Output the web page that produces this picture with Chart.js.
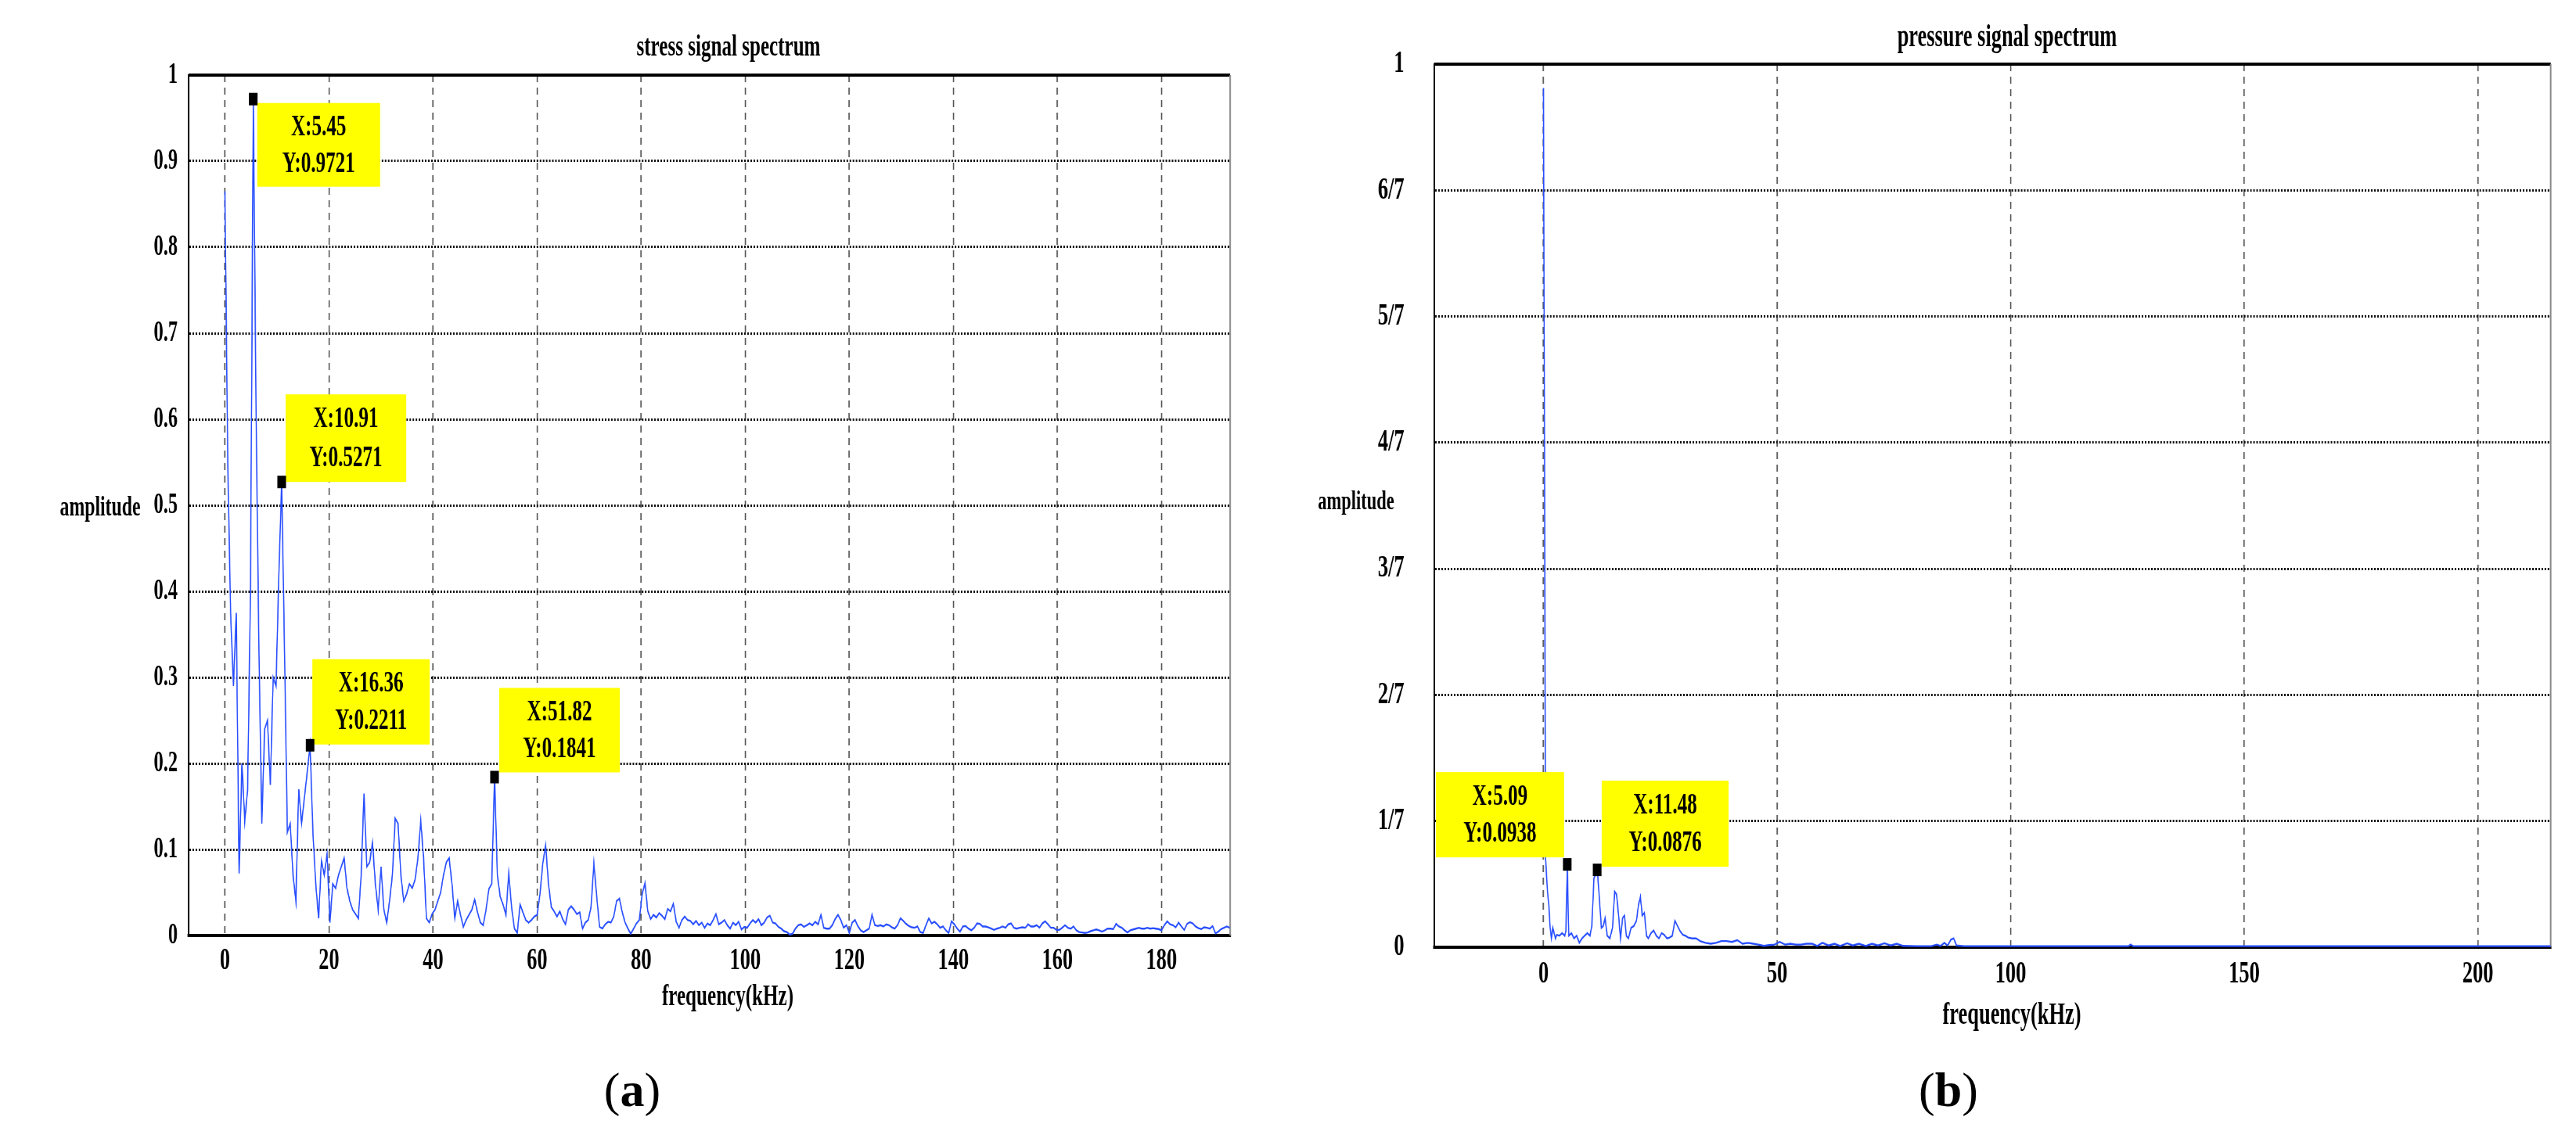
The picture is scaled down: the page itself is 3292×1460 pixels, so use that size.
<!DOCTYPE html>
<html>
<head>
<meta charset="utf-8">
<title>stress / pressure signal spectrum</title>
<script src="https://cdn.jsdelivr.net/npm/chart.js@4.4.1/dist/chart.umd.min.js"></script>
<style>
  body { margin: 0; width: 3292px; height: 1460px; background: #fff; position: relative; overflow: hidden; }
  canvas { position: absolute; top: 0; }
  .lbl {
    position: absolute; white-space: nowrap; color: #000;
    font-family: 'Liberation Serif', 'Times New Roman', serif; font-weight: bold;
    transform: translate(-50%, -50%) scaleX(0.66);
  }
  .cap {
    position: absolute; white-space: nowrap; color: #000;
    font-family: 'Liberation Serif', 'Times New Roman', serif; font-size: 62px;
    transform: translate(-50%, -50%);
  }
</style>
</head>
<body>

<canvas id="stressChart" width="2485" height="1300" style="left:0px"></canvas>
<canvas id="pressureChart" width="2488" height="1300" style="left:1650px"></canvas>

<div class="lbl" style="left:931px; top:58px; font-size:38px">stress signal spectrum</div>
<div class="lbl" style="left:2565px; top:45px; font-size:40px">pressure signal spectrum</div>
<div class="lbl" style="left:128px; top:647px; font-size:36px">amplitude</div>
<div class="lbl" style="left:1733px; top:640px; font-size:34px">amplitude</div>
<div class="lbl" style="left:930px; top:1272px; font-size:38px">frequency(kHz)</div>
<div class="lbl" style="left:2571px; top:1295px; font-size:40px">frequency(kHz)</div>
<div class="cap" style="left:808px; top:1393px">(<b>a</b>)</div>
<div class="cap" style="left:2490px; top:1393px">(<b>b</b>)</div>

<script>
// the original figure is squeezed horizontally, canvases are drawn wide and shrunk
const SX = 0.66;
const FONT = "'Liberation Serif', 'Times New Roman', serif";

/* =========================
   (a) STRESS SIGNAL SPECTRUM
========================= */
const stressStep = 0.5455; // kHz per FFT bin
const stressAmp = [
  0.865, 0.55, 0.375, 0.29, 0.375, 0.072, 0.20, 0.133, 0.17, 0.40,
  0.9721, 0.60, 0.327, 0.13, 0.24, 0.25, 0.175, 0.30, 0.29, 0.42,
  0.5271, 0.33, 0.12, 0.13, 0.07, 0.04, 0.17, 0.13, 0.16, 0.19,
  0.2211, 0.12, 0.06, 0.02, 0.087, 0.07, 0.095, 0.015, 0.06, 0.055,
  0.07, 0.08, 0.09, 0.055, 0.04, 0.03, 0.025, 0.02, 0.07, 0.165,
  0.08, 0.085, 0.108, 0.06, 0.03, 0.08, 0.03, 0.015, 0.04, 0.07,
  0.136, 0.13, 0.07, 0.04, 0.048, 0.06, 0.055, 0.065, 0.09, 0.133,
  0.09, 0.02, 0.015, 0.025, 0.03, 0.04, 0.05, 0.07, 0.085, 0.09,
  0.06, 0.02, 0.04, 0.024, 0.010, 0.018, 0.024, 0.030, 0.042, 0.027,
  0.015, 0.012, 0.030, 0.054, 0.060, 0.1841, 0.07, 0.045, 0.036, 0.024,
  0.072, 0.033, 0.008, 0.003, 0.036, 0.027, 0.018, 0.015, 0.018, 0.022,
  0.024, 0.048, 0.084, 0.105, 0.060, 0.033, 0.028, 0.022, 0.028, 0.019,
  0.013, 0.030, 0.034, 0.030, 0.025, 0.027, 0.008, 0.015, 0.018, 0.033,
  0.084, 0.045, 0.010, 0.008, 0.013, 0.016, 0.015, 0.022, 0.040, 0.043,
  0.027, 0.015, 0.008, 0.002, 0.008, 0.014, 0.018, 0.048, 0.061, 0.028,
  0.019, 0.024, 0.021, 0.026, 0.023, 0.019, 0.031, 0.028, 0.037, 0.016,
  0.009, 0.018, 0.022, 0.018, 0.017, 0.013, 0.017, 0.012, 0.015, 0.009,
  0.014, 0.012, 0.018, 0.025, 0.013, 0.015, 0.018, 0.012, 0.008, 0.015,
  0.012, 0.016, 0.007, 0.010, 0.009, 0.014, 0.018, 0.015, 0.019, 0.012,
  0.015, 0.021, 0.023, 0.015, 0.014, 0.010, 0.008, 0.005, 0.004, 0.001,
  0.002, 0.008, 0.012, 0.013, 0.010, 0.012, 0.014, 0.012, 0.016, 0.013,
  0.024, 0.009, 0.008, 0.008, 0.012, 0.019, 0.024, 0.018, 0.009, 0.012,
  0.003, 0.015, 0.018, 0.011, 0.006, 0.004, 0.006, 0.008, 0.024, 0.012,
  0.011, 0.012, 0.0105, 0.013, 0.012, 0.0095, 0.008, 0.012, 0.020, 0.017,
  0.0135, 0.011, 0.0095, 0.009, 0.0105, 0.004, 0.003, 0.012, 0.020, 0.014,
  0.016, 0.013, 0.009, 0.0105, 0.006, 0.003, 0.0165, 0.013, 0.008, 0.0045,
  0.0105, 0.011, 0.008, 0.006, 0.009, 0.014, 0.0135, 0.0105, 0.0105, 0.0095,
  0.008, 0.0065, 0.008, 0.009, 0.0105, 0.009, 0.013, 0.014, 0.009, 0.008,
  0.009, 0.0095, 0.009, 0.013, 0.0105, 0.0105, 0.012, 0.009, 0.014, 0.0165,
  0.013, 0.009, 0.009, 0.0065, 0.0065, 0.009, 0.012, 0.009, 0.008, 0.0105,
  0.006, 0.004, 0.0035, 0.003, 0.0035, 0.005, 0.006, 0.007, 0.006, 0.0045,
  0.006, 0.008, 0.008, 0.0075, 0.0135, 0.0105, 0.009, 0.006, 0.0035, 0.006,
  0.007, 0.008, 0.009, 0.008, 0.008, 0.009, 0.008, 0.0085, 0.008, 0.0075,
  0.006, 0.012, 0.0165, 0.013, 0.012, 0.0095, 0.015, 0.0105, 0.0065, 0.0135,
  0.0155, 0.014, 0.0105, 0.0085, 0.0075, 0.0095, 0.009, 0.008, 0.011, 0.0025,
  0.0045, 0.0075, 0.009, 0.0105, 0.009
];
const stressXTicks = [0, 20, 40, 60, 80, 100, 120, 140, 160, 180];
const stressYTicks = [0, 0.1, 0.2, 0.3, 0.4, 0.5, 0.6, 0.7, 0.8, 0.9, 1];
const stressYLabels = ["0", "0.1", "0.2", "0.3", "0.4", "0.5", "0.6", "0.7", "0.8", "0.9", "1"];
const stressMarkX = [5.45, 10.91, 16.36, 51.82];
const stressMarkY = [0.9721, 0.5271, 0.2211, 0.1841];

/* =========================
   (b) PRESSURE SIGNAL SPECTRUM
========================= */
const pressureFreq = [
  0, 0.45, 0.85, 1.14, 1.42, 1.70, 1.99, 2.27, 2.56, 2.84,
  3.41, 3.98, 4.55, 4.80, 5.09, 5.40, 5.97, 6.53, 7.10, 7.67,
  8.24, 8.81, 9.38, 9.94, 10.34, 10.80, 11.48, 11.65, 11.93, 12.39,
  12.78, 13.18, 13.64, 14.20, 14.77, 15.23, 15.63, 16.02, 16.48, 16.93,
  17.33, 17.73, 18.18, 18.75, 19.32, 19.89, 20.34, 20.74, 21.14, 21.59,
  22.05, 22.44, 23.01, 23.58, 24.15, 24.72, 25.28, 25.85, 26.42, 26.99,
  27.56, 28.13, 28.69, 29.26, 29.83, 30.40, 30.97, 31.82, 32.67, 33.52,
  34.66, 35.80, 36.93, 38.07, 39.20, 40.34, 41.48, 42.61, 43.75, 44.89,
  46.02, 47.16, 48.30, 49.43, 50.57, 51.70, 52.84, 53.98, 55.11, 56.25,
  57.5, 58.6, 59.7, 61.0, 62.3, 63.5, 65.0, 66.2, 67.5, 69.0,
  70.3, 71.6, 73.0, 74.3, 75.6, 77.0, 80.0, 83.0, 84.2, 85.0,
  85.8, 86.5, 87.2, 87.8, 88.4, 90.0, 110.0, 125.2, 125.7, 126.2,
  150.0, 216.0
];
const pressureAmp = [
  0.973, 0.10, 0.063, 0.048, 0.022, 0.010, 0.022, 0.016, 0.010, 0.014,
  0.013, 0.016, 0.013, 0.019, 0.0938, 0.013, 0.016, 0.010, 0.013, 0.005,
  0.010, 0.013, 0.016, 0.013, 0.024, 0.078, 0.0876, 0.078, 0.057, 0.022,
  0.024, 0.033, 0.013, 0.010, 0.022, 0.063, 0.060, 0.039, 0.010, 0.033,
  0.036, 0.013, 0.010, 0.022, 0.024, 0.030, 0.048, 0.057, 0.036, 0.039,
  0.013, 0.010, 0.016, 0.019, 0.013, 0.010, 0.016, 0.014, 0.010, 0.011,
  0.013, 0.030, 0.024, 0.018, 0.014, 0.013, 0.011, 0.010, 0.010, 0.007,
  0.005, 0.004, 0.005, 0.007, 0.007, 0.006, 0.008, 0.004, 0.005, 0.004,
  0.003, 0.0015, 0.0024, 0.003, 0.006, 0.003, 0.004, 0.003, 0.003, 0.004,
  0.004, 0.0015, 0.005, 0.002, 0.004, 0.0015, 0.0045, 0.002, 0.004, 0.0015,
  0.004, 0.002, 0.0045, 0.002, 0.004, 0.0015, 0.0012, 0.0012, 0.003, 0.0015,
  0.005, 0.002, 0.0085, 0.010, 0.002, 0.0012, 0.0012, 0.0012, 0.003, 0.0012,
  0.0012, 0.0012
];
const pressureXTicks = [0, 50, 100, 150, 200];
const pressureYTicks = [0, 1 / 7, 2 / 7, 3 / 7, 4 / 7, 5 / 7, 6 / 7, 1];
const pressureYLabels = ["0", "1/7", "2/7", "3/7", "4/7", "5/7", "6/7", "1"];
const pressureMarkX = [5.09, 11.48];
const pressureMarkY = [0.0938, 0.0876];

/* =========================
   PLUGINS
========================= */

// top and right edges of the axes box
const framePlugin = {
  id: "frame",
  beforeDatasetsDraw(chart) {
    const { ctx, chartArea: a } = chart;
    ctx.save();
    ctx.strokeStyle = "#000";
    ctx.lineWidth = 4;
    ctx.beginPath();
    ctx.moveTo(a.left, a.top);
    ctx.lineTo(a.right, a.top);
    ctx.stroke();
    ctx.strokeStyle = "#888";
    ctx.lineWidth = 3;
    ctx.beginPath();
    ctx.moveTo(a.right, a.top);
    ctx.lineTo(a.right, a.bottom);
    ctx.stroke();
    ctx.restore();
  }
};

// data cursors: black square on the point + yellow box with X / Y
const marksPlugin = {
  id: "marks",
  afterDatasetsDraw(chart, args, opts) {
    const { ctx, scales } = chart;
    ctx.save();
    opts.xs.forEach((xv, i) => {
      const yv = opts.ys[i];
      const px = scales.x.getPixelForValue(xv);
      const py = scales.y.getPixelForValue(yv);
      const [dx, dy, w, h] = opts.boxes[i];
      const bx = px + dx / SX;
      const by = py + dy;
      const bw = w / SX;

      ctx.fillStyle = "#ffff00";
      ctx.fillRect(bx, by, bw, h);

      ctx.fillStyle = "#000";
      ctx.font = "bold 38px " + FONT;
      ctx.textAlign = "center";
      ctx.textBaseline = "middle";
      ctx.fillText("X:" + xv, bx + bw / 2, by + h * 0.29);
      ctx.fillText("Y:" + yv, bx + bw / 2, by + h * 0.73);

      ctx.fillRect(px - 5.5 / SX, py - 8, 11 / SX, 16);
    });
    ctx.restore();
  }
};

/* =========================
   CHART BUILDER
========================= */

function makeChart(id, points, o) {
  const canvas = document.getElementById(id);
  canvas.style.width = (canvas.width * SX) + "px";
  canvas.style.height = canvas.height + "px";

  return new Chart(canvas, {
    type: "line",
    data: {
      datasets: [{
        data: points,
        borderColor: "rgb(40, 78, 255)",
        borderWidth: 2.4,
        pointRadius: 0,
        tension: 0,
        fill: false
      }]
    },
    options: {
      responsive: false,
      animation: false,
      layout: { padding: { left: 0, right: o.padRight, top: o.padTop, bottom: 0 } },
      plugins: {
        legend: { display: false },
        tooltip: { enabled: false },
        marks: { xs: o.markX, ys: o.markY, boxes: o.boxes }
      },
      scales: {
        x: {
          type: "linear",
          min: o.xMin,
          max: o.xMax,
          afterBuildTicks: s => { s.ticks = o.xTicks.map(v => ({ value: v })); },
          afterFit: s => { s.height = o.xHeight; },
          ticks: {
            autoSkip: false, maxRotation: 0, padding: o.xPad, color: "#000",
            font: { family: FONT, size: 40, weight: "bold" }
          },
          grid: { color: "#555", lineWidth: 2.5, drawTicks: false },
          border: { color: "#000", width: 4, dash: [9, 7] }
        },
        y: {
          type: "linear",
          min: 0,
          max: 1,
          afterBuildTicks: s => { s.ticks = o.yTicks.map(v => ({ value: v })); },
          afterFit: s => { s.width = o.yWidth; },
          ticks: {
            padding: o.yPad, color: "#000",
            callback: (v, i) => o.yLabels[i],
            font: { family: FONT, size: o.yFont, weight: "bold" }
          },
          grid: { color: "#111", lineWidth: 3, drawTicks: false },
          border: { color: "#000", width: 3, dash: [3, 3] }
        }
      }
    },
    plugins: [framePlugin, marksPlugin]
  });
}

const stressPoints = stressAmp.map((a, i) => ({ x: i * stressStep, y: a }));
const pressurePoints = pressureAmp.map((a, i) => ({ x: pressureFreq[i], y: a }));

makeChart("stressChart", stressPoints, {
  xMin: -7, xMax: 193.2, xTicks: stressXTicks, xHeight: 104, xPad: 9,
  yTicks: stressYTicks, yLabels: stressYLabels, yWidth: 365, yPad: 21, yFont: 37,
  padTop: 96, padRight: 103,
  markX: stressMarkX, markY: stressMarkY,
  boxes: [[5, 5, 157, 107], [5, -112, 154, 112], [3, -110, 150, 109], [6, -114, 154, 108]]
});

makeChart("pressureChart", pressurePoints, {
  xMin: -23.4, xMax: 215.6, xTicks: pressureXTicks, xHeight: 89, xPad: 11,
  yTicks: pressureYTicks, yLabels: pressureYLabels, yWidth: 277, yPad: 58, yFont: 40,
  padTop: 81, padRight: 49,
  markX: pressureMarkX, markY: pressureMarkY,
  boxes: [[-168, -118, 164, 109], [6, -114, 162, 110]]
});
</script>
</body>
</html>
